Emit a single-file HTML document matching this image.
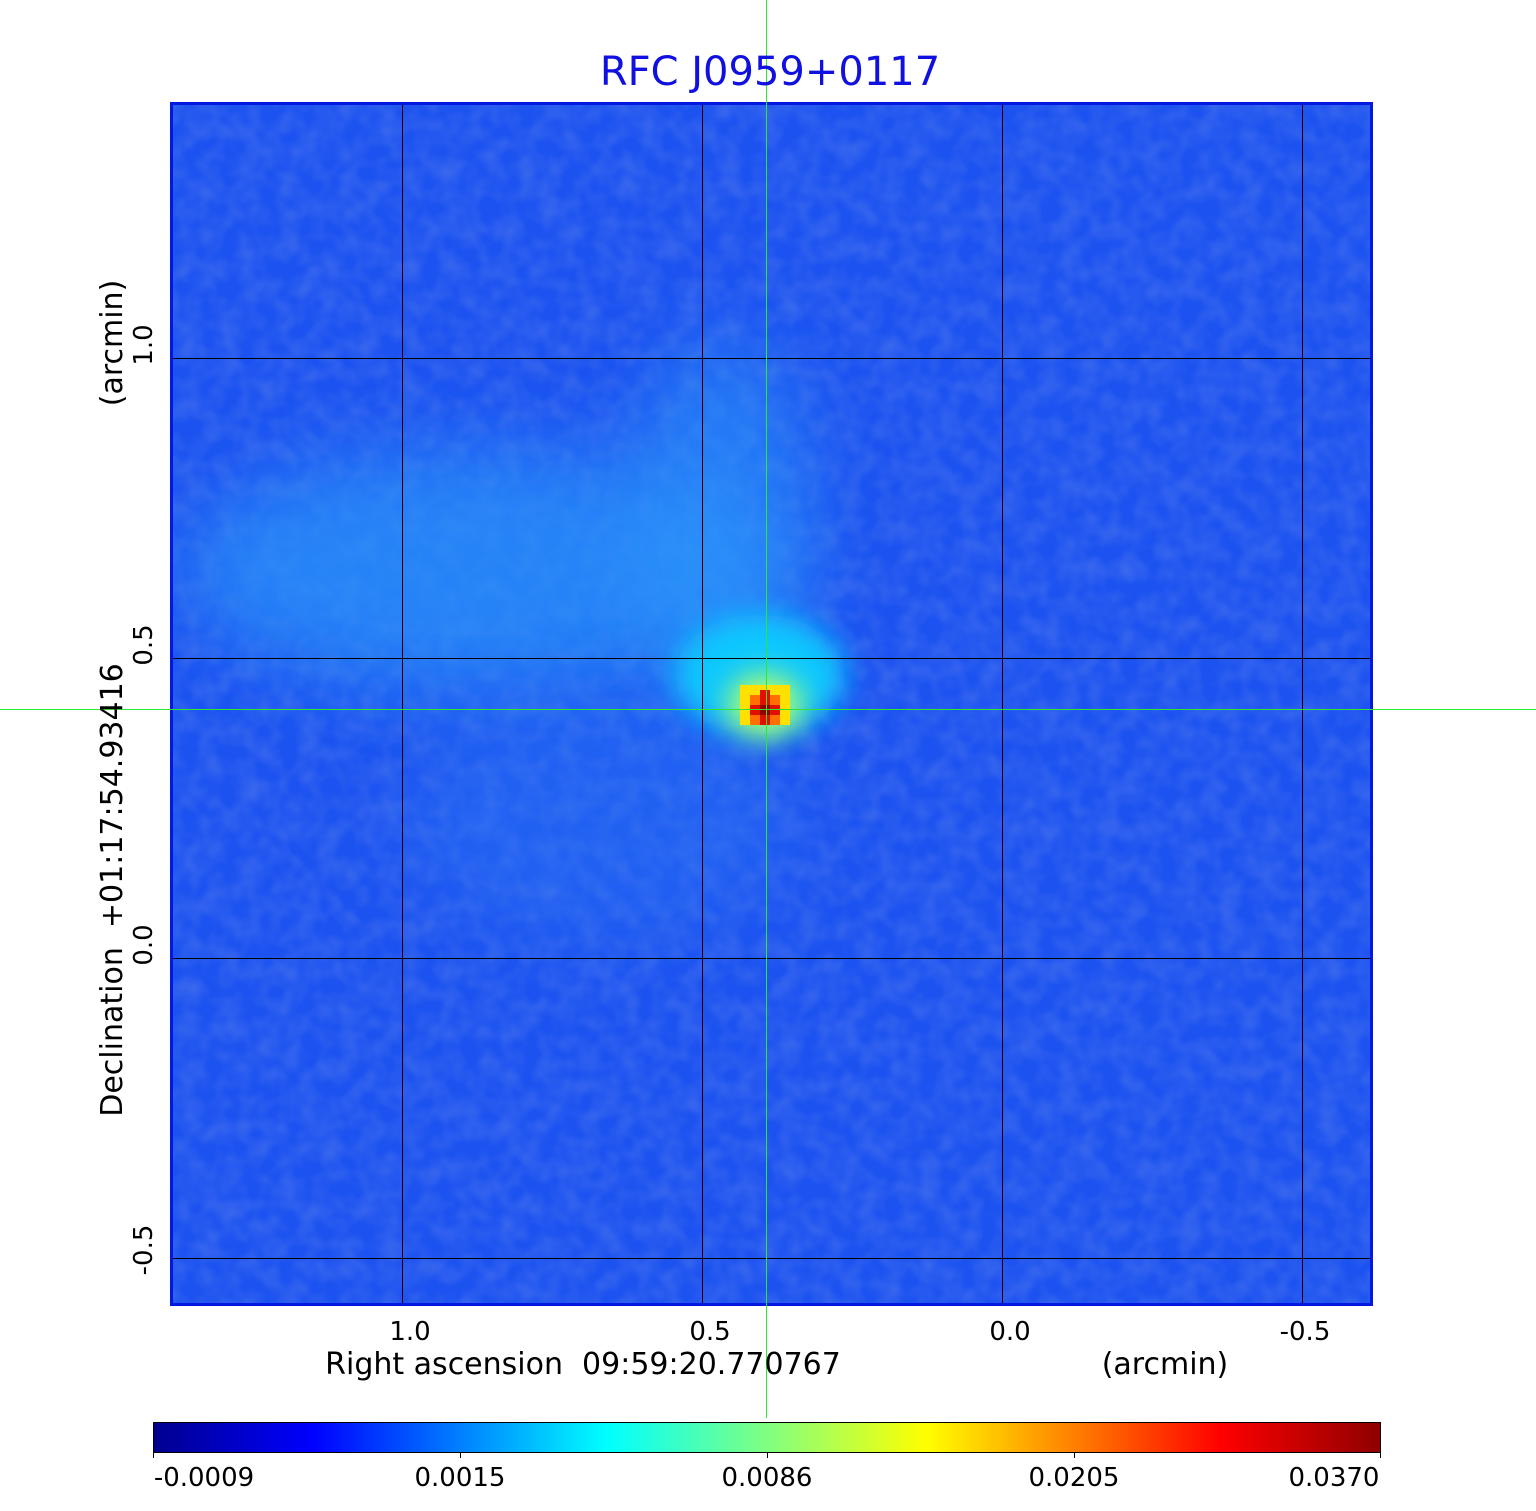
<!DOCTYPE html>
<html><head><style>
body{margin:0;background:#fff;width:1536px;height:1511px;overflow:hidden;font-family:"DejaVu Sans","Liberation Sans",sans-serif}
</style></head><body>
<svg width="1536" height="1511" xmlns="http://www.w3.org/2000/svg" style="position:absolute;left:0;top:0">
<defs>
<filter id="b1" x="-50%" y="-50%" width="200%" height="200%"><feGaussianBlur stdDeviation="40"/></filter>
<filter id="b2" x="-50%" y="-50%" width="200%" height="200%"><feGaussianBlur stdDeviation="14"/></filter>
<filter id="noise" x="0" y="0" width="100%" height="100%">
<feTurbulence type="fractalNoise" baseFrequency="0.05" numOctaves="2" seed="3" result="t"/>
<feColorMatrix in="t" type="matrix" values="0 0 0 0 0.05  0 0 0 0 0.15  0 0 0 0 0.85  0 0 0 1.4 -0.45"/>
</filter>
<clipPath id="pc"><rect x="171" y="103" width="1200" height="1201"/></clipPath>
<linearGradient id="jet" x1="0" x2="1" y1="0" y2="0">
<stop offset="0" stop-color="#00008f"/>
<stop offset="0.13" stop-color="#0000ff"/>
<stop offset="0.37" stop-color="#00ffff"/>
<stop offset="0.5" stop-color="#80ff80"/>
<stop offset="0.63" stop-color="#ffff00"/>
<stop offset="0.87" stop-color="#ff0000"/>
<stop offset="1" stop-color="#8f0000"/>
</linearGradient>
</defs>
<g clip-path="url(#pc)">
<rect x="171" y="103" width="1200" height="1201" fill="#1c52f0"/>
<rect x="171" y="103" width="1200" height="1201" filter="url(#noise)"/>
<ellipse cx="480" cy="570" rx="300" ry="120" fill="#2a98fa" opacity="0.7" filter="url(#b1)"/>
<ellipse cx="720" cy="520" rx="90" ry="180" fill="#2a98fa" opacity="0.6" filter="url(#b1)"/>
<ellipse cx="600" cy="820" rx="200" ry="120" fill="#2a78f5" opacity="0.4" filter="url(#b1)"/>
<ellipse cx="760" cy="675" rx="85" ry="60" fill="#10c8ff" filter="url(#b2)"/>
<ellipse cx="765" cy="705" rx="38" ry="32" fill="#a8ff70" filter="url(#b2)"/>
<rect x="740" y="685" width="50" height="40" fill="#ffe000"/>
<rect x="750" y="695" width="30" height="30" fill="#ff7000"/>
<rect x="760" y="690" width="10" height="35" fill="#e01000"/>
<rect x="750" y="705" width="30" height="10" fill="#e01000"/>
<rect x="760" y="705" width="10" height="10" fill="#900000"/>
</g>
<g stroke="#000" stroke-width="1" shape-rendering="crispEdges">
<line x1="402.5" y1="103" x2="402.5" y2="1304"/>
<line x1="702.5" y1="103" x2="702.5" y2="1304"/>
<line x1="1002.5" y1="103" x2="1002.5" y2="1304"/>
<line x1="1302.5" y1="103" x2="1302.5" y2="1304"/>
<line x1="171" y1="358.5" x2="1371" y2="358.5"/>
<line x1="171" y1="658.5" x2="1371" y2="658.5"/>
<line x1="171" y1="958.5" x2="1371" y2="958.5"/>
<line x1="171" y1="1258.5" x2="1371" y2="1258.5"/>
</g>
<rect x="171.5" y="103.5" width="1200" height="1201" fill="none" stroke="#0018e0" stroke-width="3"/>
<g stroke="#2ee82e" stroke-width="1" shape-rendering="crispEdges">
<line x1="766.5" y1="0" x2="766.5" y2="1418"/>
<line x1="0" y1="709.5" x2="1536" y2="709.5"/>
</g>
<text x="770" y="85" font-size="40" fill="#1010e0" text-anchor="middle">RFC J0959+0117</text>
<g font-size="26" fill="#000" text-anchor="middle">
<text x="410" y="1340">1.0</text>
<text x="710" y="1340">0.5</text>
<text x="1010" y="1340">0.0</text>
<text x="1305" y="1340">-0.5</text>
</g>
<text x="583" y="1374" font-size="30" text-anchor="middle">Right ascension&#160;&#160;09:59:20.770767</text>
<text x="1165" y="1374" font-size="30" text-anchor="middle">(arcmin)</text>
<g font-size="26" text-anchor="middle">
<text transform="translate(152,345) rotate(-90)">1.0</text>
<text transform="translate(152,645) rotate(-90)">0.5</text>
<text transform="translate(152,945) rotate(-90)">0.0</text>
<text transform="translate(152,1250) rotate(-90)">-0.5</text>
</g>
<text transform="translate(122,890) rotate(-90)" font-size="30" text-anchor="middle">Declination&#160;&#160;+01:17:54.93416</text>
<text transform="translate(122,343) rotate(-90)" font-size="30" text-anchor="middle">(arcmin)</text>
<rect x="153.5" y="1422.5" width="1227" height="30" fill="url(#jet)" stroke="#000" stroke-width="1"/>
<g stroke="#000"><line x1="153.5" y1="1452" x2="153.5" y2="1458"/><line x1="460.5" y1="1452" x2="460.5" y2="1458"/><line x1="767.5" y1="1452" x2="767.5" y2="1458"/><line x1="1074.5" y1="1452" x2="1074.5" y2="1458"/><line x1="1380.5" y1="1452" x2="1380.5" y2="1458"/></g>
<g font-size="26" text-anchor="middle">
<text x="204" y="1486">-0.0009</text>
<text x="460" y="1486">0.0015</text>
<text x="767" y="1486">0.0086</text>
<text x="1074" y="1486">0.0205</text>
<text x="1334" y="1486">0.0370</text>
</g>
</svg>
</body></html>
